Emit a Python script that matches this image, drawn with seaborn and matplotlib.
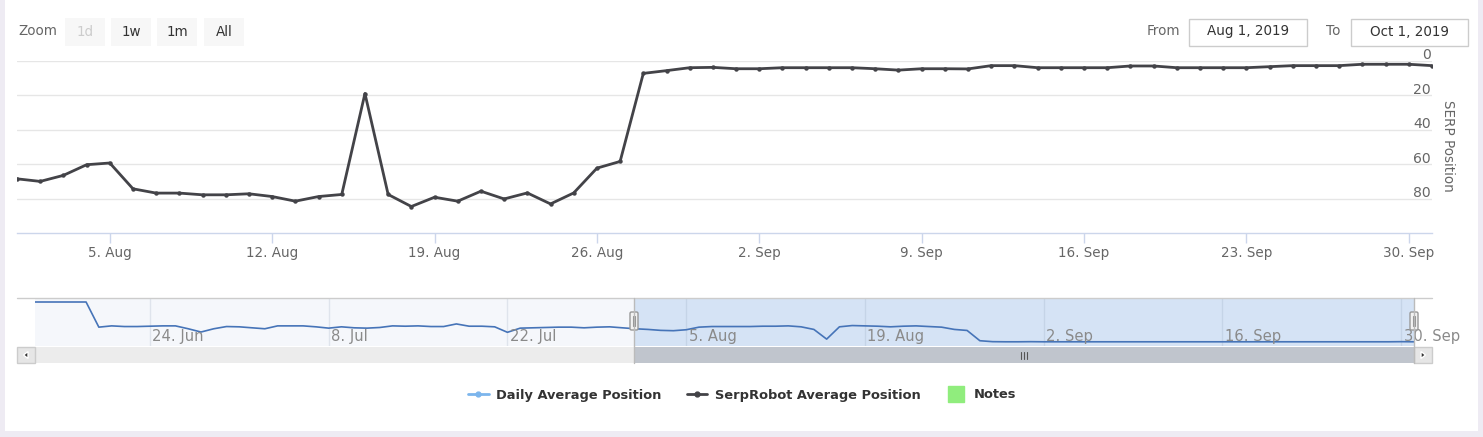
import matplotlib
matplotlib.use("Agg")
import matplotlib.pyplot as plt
import numpy as np
import pandas as pd
import seaborn as sns

from matplotlib.lines import Line2D
from matplotlib.patches import Rectangle, FancyBboxPatch, Polygon

W, H = 1483, 437

# ---- data ----
serp_start = "2019-08-01"
serp_position = [
    68.5, 70.0, 66.5, 60.3, 59.3, 74.3, 76.8, 76.8, 77.8, 77.8,
    77.2, 78.8, 81.5, 78.8, 77.6, 18.9, 77.6, 84.6, 79.2, 81.5,
    75.7, 80.2, 76.7, 83.1, 76.7, 62.3, 58.4, 7.2, 5.6, 3.9,
    3.7, 4.5, 4.5, 3.9, 3.9, 3.9, 3.9, 4.5, 5.3, 4.5,
    4.5, 4.6, 2.7, 2.7, 3.9, 3.9, 3.9, 3.9, 2.9, 2.9,
    3.9, 3.9, 3.9, 3.9, 3.3, 2.7, 2.7, 2.7, 1.9, 1.9,
    1.9, 2.7,
]

daily_start = "2019-06-15"
daily_position = [
    100, 100, 100, 100, 100, 39.0, 42.1, 40.5, 40.5, 41.3,
    42.1, 42.1, 35.1, 27.2, 35.1, 40.5, 39.8, 37.4, 35.1, 42.1,
    42.1, 42.1, 39.8, 36.6, 39.8, 37.4, 36.6, 38.2, 42.1, 41.3,
    42.1, 40.5, 40.5, 46.8, 41.3, 41.3, 39.8, 26.5, 36.6, 37.4,
    38.2, 39.0, 39.0, 37.4, 39.0, 39.8, 37.4, 35.1, 33.5, 31.2,
    30.4, 32.7, 39.0, 40.5, 40.5, 40.5, 40.5, 41.3, 41.3, 42.1,
    39.8, 33.5, 10.0, 39.8, 42.9, 42.1, 41.3, 39.8, 41.3, 42.1,
    40.5, 39.0, 33.5, 31.0, 6.1, 3.8, 3.5, 3.5, 3.8, 3.5,
    3.5, 3.5, 3.5, 3.5, 3.5, 3.5, 3.5, 3.5, 3.5, 3.5,
    3.5, 3.5, 3.5, 3.5, 3.5, 3.5, 3.5, 3.5, 3.5, 3.5,
    3.5, 3.5, 3.5, 3.5, 3.5, 3.5, 3.5, 3.8, 3.5,
]

main_ticks = ["2019-08-05", "2019-08-12", "2019-08-19", "2019-08-26",
              "2019-09-02", "2019-09-09", "2019-09-16", "2019-09-23", "2019-09-30"]
nav_ticks = ["2019-06-24", "2019-07-08", "2019-07-22", "2019-08-05",
             "2019-08-19", "2019-09-02", "2019-09-16", "2019-09-30"]
y_ticks = [0, 20, 40, 60, 80]
range_from, range_to = "2019-08-01", "2019-10-01"
zoom_buttons = ["1d", "1w", "1m", "All"]
legend_labels = ["Daily Average Position", "SerpRobot Average Position", "Notes"]

serp = pd.DataFrame({
    "date": pd.date_range(serp_start, periods=len(serp_position), freq="D"),
    "position": serp_position,
})
daily = pd.DataFrame({
    "date": pd.date_range(daily_start, periods=len(daily_position), freq="D"),
    "position": daily_position,
})

sns.set_theme(style="white")
plt.rcParams["font.family"] = ["DejaVu Sans"]


def px(v):
    # pixels -> points at dpi 100
    return v * 0.72


def box(x0, y0, x1, y1):
    return [x0 / W, 1 - y1 / H, (x1 - x0) / W, (y1 - y0) / H]


fig = plt.figure(figsize=(W / 100, H / 100), dpi=100)
fig.patch.set_facecolor("#eeebf3")

# decoration layer in pixel coordinates
deco = fig.add_axes([0, 0, 1, 1], zorder=0)
deco.set_xlim(0, W)
deco.set_ylim(H, 0)
deco.axis("off")
deco.add_patch(Rectangle((5, 0), 1473, 431, facecolor="white", edgecolor="none"))

# ---- range selector ----
deco.text(18, 31, "Zoom", ha="left", va="center", color="#666666", fontsize=px(13.5))
bx = [65, 111, 157, 204]
for i, lab in enumerate(zoom_buttons):
    deco.add_patch(Rectangle((bx[i], 18), 40, 28, facecolor="#f7f7f7", edgecolor="none"))
    deco.text(bx[i] + 20, 31.5, lab, ha="center", va="center", fontsize=px(13.5),
              color="#cccccc" if i == 0 else "#333333")

d_from, d_to = pd.Timestamp(range_from), pd.Timestamp(range_to)
for lab, x_lab, x0, x1, d in [("From", 1180, 1189, 1307, d_from), ("To", 1340, 1351, 1468, d_to)]:
    deco.text(x_lab, 31, lab, ha="right", va="center", color="#666666", fontsize=px(13.5))
    deco.add_patch(Rectangle((x0, 18.5), x1 - x0, 27, facecolor="white", edgecolor="#cccccc", lw=1))
    deco.text((x0 + x1) / 2, 31.5, f"{d:%b} {d.day}, {d.year}", ha="center", va="center",
              color="#333333", fontsize=px(13.5))

# ---- main chart ----
ax = fig.add_axes(box(17, 61, 1432, 233), zorder=2)
ax.set_facecolor("none")
sns.lineplot(data=serp, x="date", y="position", ax=ax, color="#434348", lw=2,
             marker="o", markersize=3.2, markeredgewidth=0, legend=False, zorder=3)
ax.set_xlim(d_from, d_to)
ax.set_ylim(100, 0)
ax.set_yticks(y_ticks)
ax.yaxis.grid(True, color="#e6e6e6", lw=1)
ax.tick_params(axis="y", length=0, labelleft=False, labelright=False)
for v in y_ticks:
    ax.annotate(str(v), xy=(1, v), xycoords=("axes fraction", "data"), xytext=(-1, -1),
                textcoords="offset points", ha="right", va="bottom",
                color="#666666", fontsize=px(14))
tick_dates = pd.to_datetime(main_ticks)
ax.set_xticks(tick_dates)
ax.set_xticklabels([f"{d.day}. {d:%b}" for d in tick_dates])
ax.tick_params(axis="x", bottom=True, direction="out", length=px(10), width=1, color="#ccd6eb",
               labelcolor="#666666", labelsize=px(13.5), pad=2)
for s in ["top", "left", "right"]:
    ax.spines[s].set_visible(False)
ax.spines["bottom"].set_color("#ccd6eb")
ax.spines["bottom"].set_linewidth(1)
ax.set_xlabel("")
ax.set_ylabel("")
fig.text(1448 / W, 1 - 146 / H, "SERP Position", rotation=270, ha="center", va="center",
         color="#666666", fontsize=px(13.5))

# ---- navigator ----
nav = fig.add_axes(box(35, 298, 1414, 346), zorder=1)
nav.set_facecolor("#f5f7fb")
nav.axvspan(d_from, d_to, color="#d5e3f5", zorder=1, lw=0)
sns.lineplot(data=daily, x="date", y="position", ax=nav, color="#4674b8", lw=1.2,
             legend=False, zorder=3)
nav.set_xlim(daily["date"].iloc[0], daily["date"].iloc[-1])
nav.set_ylim(3 - 9.7, 100 + 9.7)
nav.set_yticks([])
nav_dates = pd.to_datetime(nav_ticks)
nav.set_xticks(nav_dates)
nav.set_xticklabels([])
nav.set_axisbelow(False)
nav.xaxis.grid(True, color="#8090a8", alpha=0.18, lw=1)
nav.tick_params(axis="x", length=0)
for d in nav_dates:
    nav.annotate(f"{d.day}. {d:%b}", xy=(d, 0), xycoords=("data", "axes fraction"),
                 xytext=(px(2.5), px(1.5)), textcoords="offset points", ha="left", va="bottom",
                 color="#8a8a8a", fontsize=px(14.8),
                 annotation_clip=False, zorder=4)
for s in nav.spines.values():
    s.set_visible(False)
nav.set_xlabel("")
nav.set_ylabel("")

# navigator outline, scrollbar and handles
x_sel0, x_sel1 = 634, 1414
deco2 = fig.add_axes([0, 0, 1, 1], zorder=3)
deco2.set_xlim(0, W)
deco2.set_ylim(H, 0)
deco2.axis("off")
deco2.plot([17, 1432], [297.5, 297.5], color="#cccccc", lw=1)
deco2.add_patch(Rectangle((34, 347), 1380, 16, facecolor="#ececec", edgecolor="none"))
deco2.add_patch(Rectangle((x_sel0, 347), x_sel1 - x_sel0, 16, facecolor="#c0c5cd", edgecolor="none"))
for x in (17, 1414):
    deco2.add_patch(Rectangle((x, 347), 17.5, 16, facecolor="#e6e6e6", edgecolor="#cccccc", lw=1))
deco2.add_patch(Polygon([[28, 351.5], [28, 358.5], [23.5, 355]], closed=True, facecolor="#333333"))
deco2.add_patch(Polygon([[1421, 351.5], [1421, 358.5], [1425.5, 355]], closed=True, facecolor="#333333"))
mid = (x_sel0 + x_sel1) / 2
for dx in (-3, 0, 3):
    deco2.plot([mid + dx, mid + dx], [351.5, 358.5], color="#555555", lw=0.8)
for x in (x_sel0, x_sel1):
    deco2.plot([x, x], [297.5, 363], color="#bbbbbb", lw=1)
    deco2.add_patch(FancyBboxPatch((x - 4, 312), 8, 18, boxstyle="round,pad=0,rounding_size=1.5",
                                   facecolor="#f2f2f2", edgecolor="#999999", lw=1))
    for dx in (-1.2, 1.2):
        deco2.plot([x + dx, x + dx], [316, 326], color="#999999", lw=0.8)

# ---- legend ----
handles = [
    Line2D([], [], color="#7cb5ec", lw=2, marker="o", markersize=3.5),
    Line2D([], [], color="#434348", lw=2, marker="o", markersize=3.5),
    Line2D([], [], color="#90ed7d", ls="none", marker="s", markersize=px(16)),
]
leg = fig.legend(handles, legend_labels, loc="center", bbox_to_anchor=(742 / W, 1 - 395 / H),
                 ncol=3, frameon=False, numpoints=1, handlelength=1.6, handletextpad=0.55,
                 columnspacing=1.95, prop={"weight": "bold", "size": px(13)})
for t in leg.get_texts():
    t.set_color("#333333")

fig.savefig("out.png", dpi=100, facecolor=fig.get_facecolor())
